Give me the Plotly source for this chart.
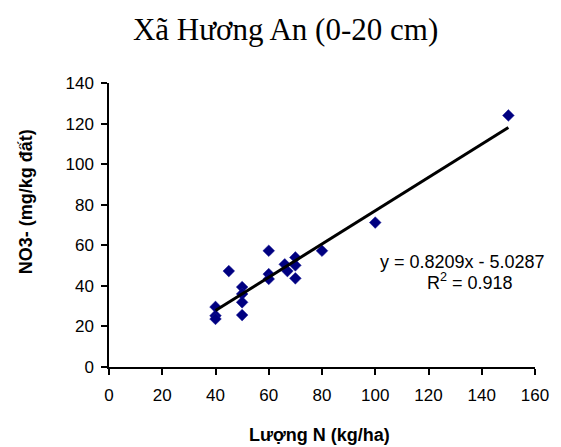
import plotly.graph_objects as go
import numpy as np

# Data
luong_n = [40, 40, 40, 45, 50, 50, 50, 50, 60, 60, 60, 66, 67, 70, 70, 70, 80, 100, 150]
no3 = [29.6, 25.3, 23.7, 47.3, 39.4, 36.0, 31.9, 25.6, 57.3, 45.8, 43.4, 50.6, 47.3, 54.0, 50.1, 43.7, 57.3, 71.2, 124.0]

slope = 0.8209
intercept = -5.0287
r2 = 0.918

title_text = "Xã Hương An (0-20 cm)"
x_title = "Lượng N (kg/ha)"
y_title = "NO3- (mg/kg đất)"
x_ticks = [0, 20, 40, 60, 80, 100, 120, 140, 160]
y_ticks = [0, 20, 40, 60, 80, 100, 120, 140]

trend_x = np.array([min(luong_n), max(luong_n)], dtype=float)
trend_y = slope * trend_x + intercept

fig = go.Figure()
fig.add_trace(go.Scatter(
    x=luong_n, y=no3, mode="markers",
    marker=dict(symbol="diamond", size=9, color="#000080",
                line=dict(width=0.5, color="#1a1a99")),
    showlegend=False, hoverinfo="x+y"))
fig.add_trace(go.Scatter(
    x=trend_x, y=trend_y, mode="lines",
    line=dict(color="black", width=3), showlegend=False))

axis_common = dict(
    showgrid=False, zeroline=False, showline=True, linecolor="black", linewidth=1.5,
    ticks="outside", ticklen=6, tickwidth=1.5, tickcolor="black",
    tickfont=dict(family="Liberation Sans, Arial", size=17, color="black"),
)

# the page body adds an 8px offset, so the figure is slightly smaller than the window
fig.update_layout(
    width=553, height=439,
    margin=dict(l=101, r=23, t=75, b=80),
    paper_bgcolor="white", plot_bgcolor="white",
    title=dict(text=title_text, x=0.502, xanchor="center", y=1 - 21 / 439, yanchor="middle",
               yref="container",
               font=dict(family="Liberation Serif, Times New Roman", size=31, color="black")),
    xaxis=dict(range=[0, 160], tickvals=x_ticks, ticklabelstandoff=6, **axis_common),
    yaxis=dict(range=[0, 140], tickvals=y_ticks, ticklabelstandoff=4, **axis_common),
    annotations=[
        dict(text=f"<b>{x_title}</b>", xref="paper", yref="paper", x=0.494, y=-0.238,
             xanchor="center", yanchor="middle", showarrow=False,
             font=dict(family="Liberation Sans, Arial", size=18, color="black")),
        dict(text=f"<b>{y_title}</b>", xref="paper", yref="paper", x=-0.196, y=0.582,
             xanchor="center", yanchor="middle", textangle=-90, showarrow=False,
             font=dict(family="Liberation Sans, Arial", size=18, color="black")),
        dict(text=f"y = {slope}x - {abs(intercept)}", xref="x", yref="y", x=132.8, y=52.0,
             xanchor="center", yanchor="middle", showarrow=False,
             font=dict(family="Liberation Sans, Arial", size=18, color="black")),
        dict(text=f"R<sup>2</sup> = {r2}", xref="x", yref="y", x=135.4, y=42.0,
             xanchor="center", yanchor="middle", showarrow=False,
             font=dict(family="Liberation Sans, Arial", size=18, color="black")),
    ],
)

fig.write_html("out.html")
